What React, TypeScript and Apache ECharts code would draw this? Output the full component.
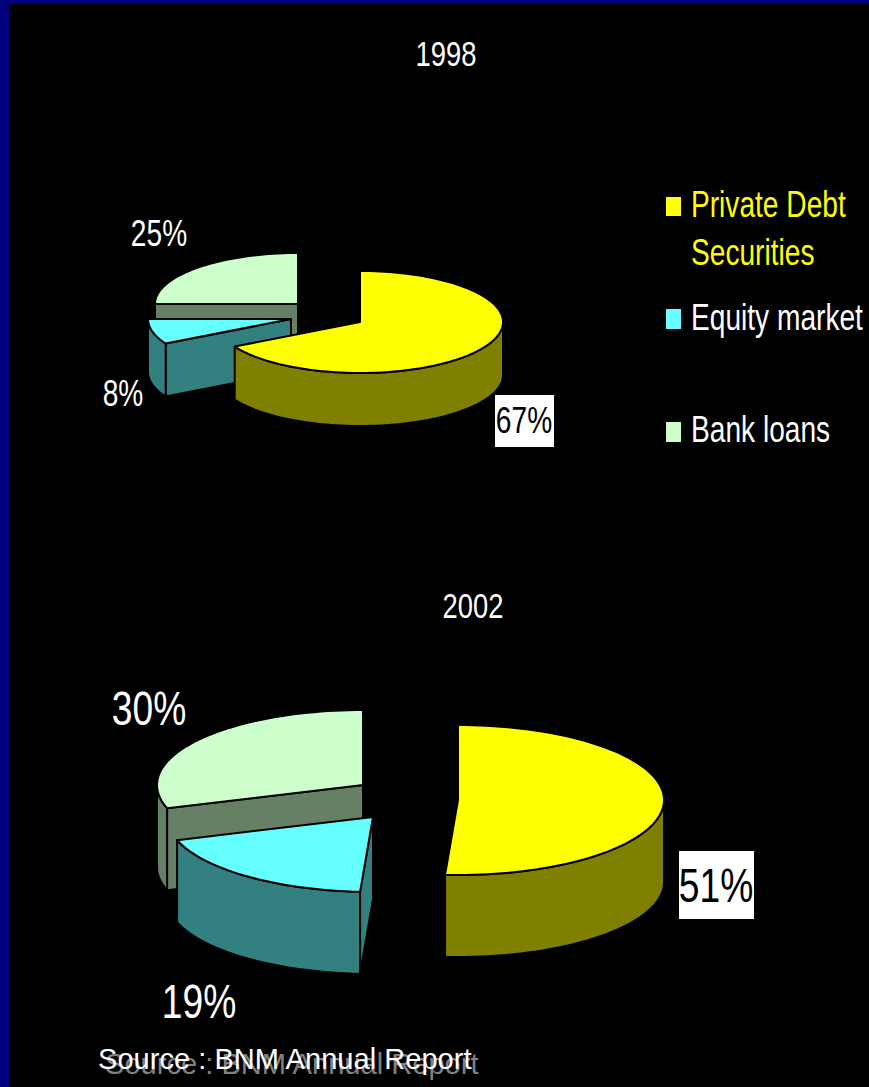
import React, { useEffect, useRef } from "react";
import * as echarts from "echarts";

// Shares of financing by source, in percent
const categories = ["Private Debt Securities", "Equity market", "Bank loans"];
const years = ["1998", "2002"];
const shares1998 = [67, 8, 25];
const shares2002 = [51, 19, 30];
const topColors = ["#FFFF00", "#66FFFF", "#CCFFCC"];
const sideColors = ["#808000", "#338080", "#668066"];

const FONT = "Liberation Sans";
const SQUEEZE = 0.76;

// Exploded-pie geometry: ellipse radii, extrusion depth and the apex of each slice
const pies = [
  {
    shares: shares1998,
    rx: 143,
    ry: 51,
    depth: 53,
    apexes: [[360, 322], [291, 319], [298, 304]],
    title: [446, 54],
    labelSize: 37,
    labels: [[524, 420], [123, 393], [159, 233]],
    boxed: [495, 395, 59, 52],
  },
  {
    shares: shares2002,
    rx: 206,
    ry: 75,
    depth: 82,
    apexes: [[458, 800], [373, 817], [363, 785]],
    title: [473, 606],
    labelSize: 49,
    labels: [[716, 885], [199, 1001], [149, 708]],
    boxed: [679, 851, 75, 68],
  },
];

const legendRows = [
  { swatch: [666, 197, 15, 19], lines: [["Private Debt", 204], ["Securities", 252]], color: "#FFFF00" },
  { swatch: [666, 309, 15, 20], lines: [["Equity market", 317]], color: "#FFFFFF" },
  { swatch: [666, 422, 15, 20], lines: [["Bank loans", 429]], color: "#FFFFFF" },
];

function rimPoint(apex: number[], rx: number, ry: number, deg: number, drop = 0) {
  const t = (deg * Math.PI) / 180;
  return [apex[0] + rx * Math.sin(t), apex[1] - ry * Math.cos(t) + drop];
}

function arc(apex: number[], rx: number, ry: number, from: number, to: number, drop = 0) {
  const pts: number[][] = [];
  const steps = Math.max(2, Math.ceil((to - from) / 2));
  for (let i = 0; i <= steps; i++) {
    pts.push(rimPoint(apex, rx, ry, from + ((to - from) * i) / steps, drop));
  }
  return pts;
}

function face(points: number[][], fill: string) {
  return {
    type: "polygon",
    shape: { points },
    style: { fill, stroke: "#000000", lineWidth: 2, lineJoin: "round" },
  };
}

// Builds a slice from its value: walls and rim first, the top face over them
function makeRenderItem(pie: (typeof pies)[number]) {
  const total = pie.shares.reduce((a, b) => a + b, 0);
  return (_params: unknown, api: any) => {
    const index = api.value(0);
    const value = api.value(1);
    const before = pie.shares.slice(0, index).reduce((a, b) => a + b, 0);
    const start = (before / total) * 360;
    const end = start + (value / total) * 360;
    const apex = pie.apexes[index];
    const { rx, ry, depth } = pie;
    const side = sideColors[index];
    const children: unknown[] = [];

    const wall = (deg: number) => {
      const rim = rimPoint(apex, rx, ry, deg);
      children.push(face([apex, rim, [rim[0], rim[1] + depth], [apex[0], apex[1] + depth]], side));
    };
    if (Math.sin((start * Math.PI) / 180) < 0) wall(start);
    if (Math.sin((end * Math.PI) / 180) > 0) wall(end);

    const rimFrom = Math.max(start, 90);
    const rimTo = Math.min(end, 270);
    if (rimTo > rimFrom) {
      const upper = arc(apex, rx, ry, rimFrom, rimTo);
      const lower = arc(apex, rx, ry, rimFrom, rimTo, depth).reverse();
      children.push(face([...upper, ...lower], side));
    }

    children.push(face([apex, ...arc(apex, rx, ry, start, end)], topColors[index]));
    return { type: "group", children };
  };
}

function squeezedText(text: string, x: number, y: number, fontSize: number, fill: string, align = "center", scaleX = SQUEEZE) {
  return {
    type: "text",
    x,
    y,
    scaleX,
    style: { text, fontFamily: FONT, fontSize, fill, align, verticalAlign: "middle" },
  };
}

function rect(x: number, y: number, width: number, height: number, fill: string) {
  return { type: "rect", shape: { x, y, width, height }, style: { fill } };
}

export default function App() {
  const ref = useRef<HTMLDivElement>(null);

  useEffect(() => {
    document.body.style.margin = "0";
    const chart = echarts.init(ref.current!, undefined, { renderer: "svg" });

    const graphics: unknown[] = [rect(0, 0, 869, 4, "#000080"), rect(0, 0, 9, 1087, "#000080")];

    pies.forEach((pie, p) => {
      graphics.push(squeezedText(years[p], pie.title[0], pie.title[1], 36, "#FFFFFF"));
      const b = pie.boxed;
      graphics.push(rect(b[0], b[1], b[2], b[3], "#FFFFFF"));
      pie.shares.forEach((share, i) => {
        const at = pie.labels[i];
        graphics.push(squeezedText(`${share}%`, at[0], at[1], pie.labelSize, i === 0 ? "#000000" : "#FFFFFF"));
      });
    });

    legendRows.forEach((row, i) => {
      const s = row.swatch;
      graphics.push(rect(s[0], s[1], s[2], s[3], topColors[i]));
      row.lines.forEach(([text, y]) => {
        graphics.push(squeezedText(text as string, 691, y as number, 37, row.color, "left"));
      });
    });

    graphics.push(squeezedText("Source : BNM Annual Report", 105, 1063, 30, "#808080", "left", 0.97));
    graphics.push(squeezedText("Source : BNM Annual Report", 98, 1058, 30, "#FFFFFF", "left", 0.97));

    chart.setOption({
      animation: false,
      backgroundColor: "#000000",
      graphic: { elements: graphics },
      series: pies.map((pie, p) => ({
        type: "custom",
        name: years[p],
        coordinateSystem: "none",
        clip: false,
        renderItem: makeRenderItem(pie),
        // Painted back to front: the first category sits nearest the viewer
        data: pie.shares.map((share, i) => ({ name: categories[i], value: [i, share] })).reverse(),
      })),
    });

    return () => chart.dispose();
  }, []);

  return <div ref={ref} style={{ position: "absolute", left: 0, top: 0, width: 869, height: 1087 }} />;
}
